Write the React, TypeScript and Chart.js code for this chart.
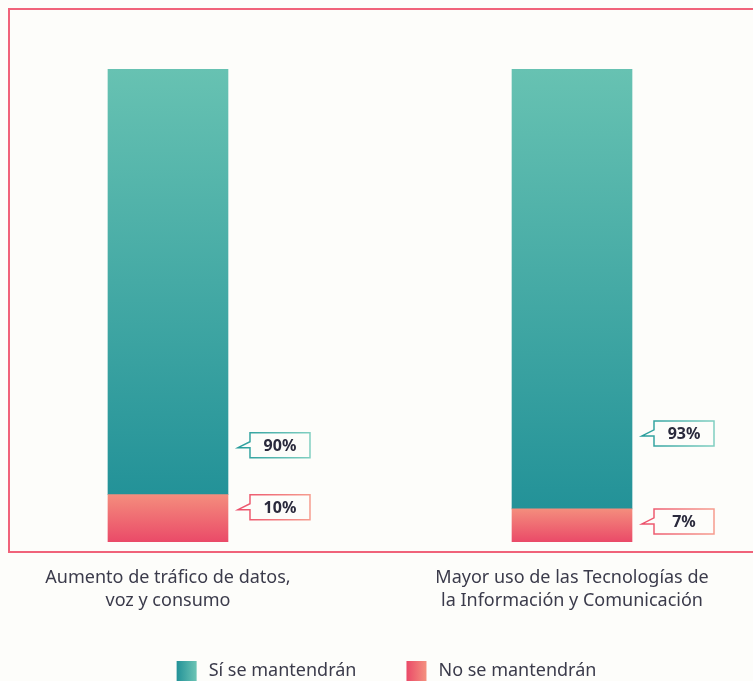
import React, { useEffect, useRef } from "react";
import { Chart, registerables } from "chart.js";

Chart.register(...registerables);

const categories: string[][] = [
  ["Aumento de tráfico de datos,", "voz y consumo"],
  ["Mayor uso de las Tecnologías de", "la Información y Comunicación"],
];
const siValues: number[] = [90, 93];
const noValues: number[] = [10, 7];
const seriesNames: string[] = ["No se mantendrán", "Sí se mantendrán"];

const BG = "#fdfdfa";
const TEXT = "#3b3b4b";
const FONT = "'Noto Sans', 'Open Sans', sans-serif";

const gradStops: Record<number, [string, string]> = {
  0: ["#f48d7d", "#ea4a68"], // pink: top, bottom
  1: ["#67c2b2", "#239298"], // teal: top, bottom
};
const legendStops: Record<number, [string, string]> = {
  0: ["#ea4a68", "#f4917f"],
  1: ["#239298", "#6cc4b4"],
};
const strokeStops: Record<number, [string, string]> = {
  0: ["#ec4f6a", "#f69c8e"],
  1: ["#269c9b", "#80cfc1"],
};
// vertical offset (px) of the "Sí" callouts above the segment split
const siCalloutOffsets = [62, 88];

function barGradient(ctx: any) {
  const chart = ctx.chart;
  const di = ctx.datasetIndex;
  const stops = gradStops[di];
  if (!chart.chartArea || ctx.type !== "data") return stops[1];
  const y = chart.scales.y;
  const i = ctx.dataIndex;
  const lo = di === 0 ? 0 : noValues[i];
  const hi = di === 0 ? noValues[i] : noValues[i] + siValues[i];
  const g = chart.ctx.createLinearGradient(0, y.getPixelForValue(hi), 0, y.getPixelForValue(lo));
  g.addColorStop(0, stops[0]);
  g.addColorStop(1, stops[1]);
  return g;
}

const framePlugin = {
  id: "frame",
  beforeDraw(chart: any) {
    const c = chart.ctx;
    c.save();
    c.fillStyle = BG;
    c.fillRect(0, 0, chart.width, chart.height);
    c.strokeStyle = "#f0637a";
    c.lineWidth = 2;
    c.strokeRect(9, 9, 800, 543);
    c.restore();
  },
};

const calloutPlugin = {
  id: "callouts",
  afterDatasetsDraw(chart: any) {
    const c = chart.ctx;
    chart.data.datasets.forEach((ds: any, di: number) => {
      const meta = chart.getDatasetMeta(di);
      meta.data.forEach((bar: any, i: number) => {
        const p = bar.getProps(["x", "y", "base", "width"], true);
        const right = p.x + p.width / 2;
        const segTop = Math.min(p.y, p.base);
        const segBottom = Math.max(p.y, p.base);
        const L = right + 22;
        const W = 60;
        const H = 25;
        const T = di === 0 ? segTop : segBottom - siCalloutOffsets[i];
        const g = c.createLinearGradient(L - 12, 0, L + W, 0);
        g.addColorStop(0, strokeStops[di][0]);
        g.addColorStop(1, strokeStops[di][1]);
        c.save();
        c.beginPath();
        c.moveTo(L, T);
        c.lineTo(L + W, T);
        c.lineTo(L + W, T + H);
        c.lineTo(L, T + H);
        c.lineTo(L, T + 15);
        c.lineTo(L - 12, T + 15);
        c.lineTo(L, T + 9);
        c.closePath();
        c.fillStyle = BG;
        c.fill();
        c.strokeStyle = g;
        c.lineWidth = 1.5;
        c.lineJoin = "miter";
        c.stroke();
        c.fillStyle = "#2a2a3c";
        c.font = `bold 16px ${FONT}`;
        c.textAlign = "center";
        c.textBaseline = "middle";
        c.fillText(`${ds.data[i].y}%`, L + W / 2, T + H / 2 + 1);
        c.restore();
      });
    });
  },
};

const LEGEND_BOX = 20;
const legendGradientPlugin = {
  id: "legendGradient",
  afterDraw(chart: any) {
    const legend = chart.legend;
    if (!legend || !legend.legendHitBoxes) return;
    const c = chart.ctx;
    legend.legendItems.forEach((item: any, i: number) => {
      const hb = legend.legendHitBoxes[i];
      if (!hb) return;
      const x = hb.left;
      const y = hb.top;
      c.save();
      // clear the default (wider) box, then paint the gradient swatch
      c.fillStyle = BG;
      c.fillRect(x - 1, y - 1, 25, LEGEND_BOX + 2);
      const g = c.createLinearGradient(x, 0, x + LEGEND_BOX, 0);
      const s = legendStops[item.datasetIndex];
      g.addColorStop(0, s[0]);
      g.addColorStop(1, s[1]);
      c.fillStyle = g;
      c.fillRect(x, y, LEGEND_BOX, LEGEND_BOX);
      c.restore();
    });
  },
};

export default function App() {
  const ref = useRef<HTMLCanvasElement | null>(null);
  useEffect(() => {
    if (!ref.current) return;
    const chart = new Chart(ref.current, {
      type: "bar",
      data: {
        datasets: [
          {
            label: seriesNames[0],
            data: noValues.map((v, i) => ({ x: i, y: v })),
            backgroundColor: barGradient,
            borderWidth: 0,
            barThickness: 120,
          },
          {
            label: seriesNames[1],
            data: siValues.map((v, i) => ({ x: i, y: v })),
            backgroundColor: barGradient,
            borderWidth: 0,
            barThickness: 120,
          },
        ],
      },
      options: {
        responsive: false,
        animation: false,
        devicePixelRatio: 1,
        layout: { padding: { top: 69, left: 20, right: 0, bottom: 0 } },
        scales: {
          x: {
            type: "linear",
            min: -0.3663,
            max: 1.448,
            offset: false,
            stacked: true,
            grid: { display: false, drawTicks: false, offset: false },
            border: { display: false },
            afterBuildTicks: (s: any) => {
              s.ticks = categories.map((_, i) => ({ value: i }));
            },
            afterFit: (s: any) => {
              s.height = 69;
            },
            ticks: {
              callback: (v: any) => categories[v as number],
              font: { family: FONT, size: 18, lineHeight: 1.3 },
              color: TEXT,
              padding: 24,
              maxRotation: 0,
              autoSkip: false,
            },
          },
          y: {
            display: false,
            stacked: true,
            min: 0,
            max: 100,
          },
        },
        plugins: {
          tooltip: { enabled: false },
          legend: {
            position: "bottom",
            reverse: true,
            labels: {
              boxWidth: 23,
              boxHeight: 20,
              padding: 50,
              color: TEXT,
              font: { family: FONT, size: 18 },
            },
          },
        },
      },
      plugins: [framePlugin, calloutPlugin, legendGradientPlugin],
    } as any);
    return () => chart.destroy();
  }, []);
  return (
    <div
      style={{
        position: "absolute",
        left: 0,
        top: 0,
        width: 753,
        height: 681,
        overflow: "hidden",
        background: BG,
      }}
    >
      <canvas ref={ref} width={753} height={691} style={{ display: "block" }} />
    </div>
  );
}
